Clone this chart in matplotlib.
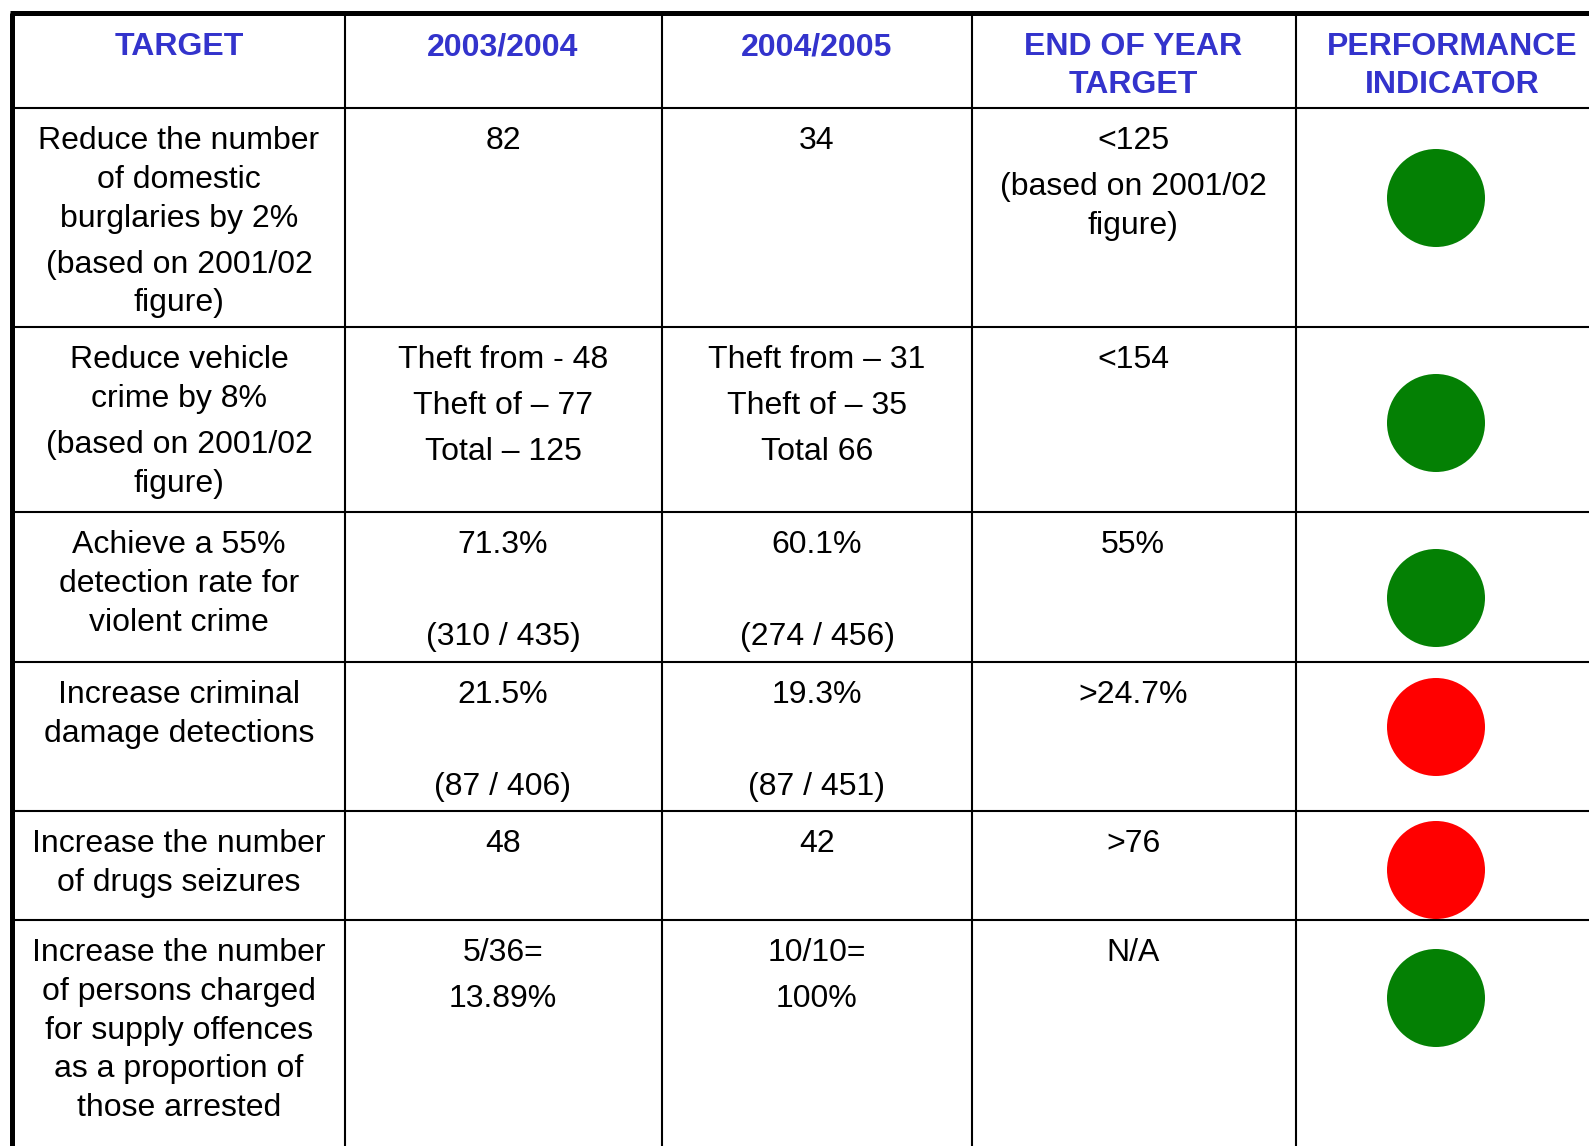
import matplotlib
matplotlib.use("Agg")
import matplotlib.pyplot as plt
from matplotlib.patches import Circle

# table content
headers = [["TARGET"], ["2003/2004"], ["2004/2005"], ["END OF YEAR\nTARGET"], ["PERFORMANCE\nINDICATOR"]]
targets = [
    ["Reduce the number\nof domestic\nburglaries by 2%", "(based on 2001/02\nfigure)"],
    ["Reduce vehicle\ncrime by 8%", "(based on 2001/02\nfigure)"],
    ["Achieve a 55%\ndetection rate for\nviolent crime"],
    ["Increase criminal\ndamage detections"],
    ["Increase the number\nof drugs seizures"],
    ["Increase the number\nof persons charged\nfor supply offences\nas a proportion of\nthose arrested"],
]
y2003 = [["82"], ["Theft from - 48", "Theft of \u2013 77", "Total \u2013 125"], ["71.3%", "", "(310 / 435)"],
         ["21.5%", "", "(87 / 406)"], ["48"], ["5/36=", "13.89%"]]
y2004 = [["34"], ["Theft from \u2013 31", "Theft of \u2013 35", "Total 66"], ["60.1%", "", "(274 / 456)"],
         ["19.3%", "", "(87 / 451)"], ["42"], ["10/10=", "100%"]]
year_end = [["<125", "(based on 2001/02\nfigure)"], ["<154"], ["55%"], [">24.7%"], [">76"], ["N/A"]]
indicator = ["green", "green", "green", "red", "red", "green"]

# layout (pixels)
W, H = 1589, 1146
col_x = [11.5, 345, 662, 972, 1296]
col_mid = [179, 503, 817, 1133, 1452]
row_y = [13, 108, 327, 512, 662, 811, 920]
dot_y = [198, 423, 598, 727, 870, 998]
dot_x, dot_r = 1436, 49
WRAP, PARA = 38.8, 46
colors = {"green": "#048004", "red": "#FF0000"}

plt.rcParams['font.family'] = ['Liberation Sans', 'DejaVu Sans']
fig = plt.figure(figsize=(W / 100, H / 100), dpi=100)
ax = fig.add_axes([0, 0, 1, 1])
ax.set_xlim(0, W)
ax.set_ylim(H, 0)
ax.axis('off')

# grid
for y in row_y[1:]:
    ax.plot([col_x[0], W], [y, y], color='black', lw=1.5, solid_capstyle='butt')
ax.plot([col_x[0] - 2, W], [row_y[0], row_y[0]], color='black', lw=3.6, solid_capstyle='butt')
ax.plot([col_x[0], col_x[0]], [row_y[0], H], color='black', lw=3.6, solid_capstyle='butt')
for x in col_x[1:]:
    ax.plot([x, x], [row_y[0], H], color='black', lw=1.5, solid_capstyle='butt')


def draw_cell(x, top, paras, first=41, **kw):
    y = top + first
    for pi, para in enumerate(paras):
        if pi > 0:
            y += PARA
        for li, line in enumerate(para.split("\n")):
            if li > 0:
                y += WRAP
            ax.text(x, y, line, ha='center', va='baseline', **kw)


for c, h in enumerate(headers):
    for li, line in enumerate(h[0].split("\n")):
        ax.text(col_mid[c], row_y[0] + 42 + li * 38, line, ha='center', va='baseline',
                fontsize=23, fontweight='bold', color='#3333CC')

for r in range(len(targets)):
    top = row_y[r + 1]
    for c, col in enumerate([targets, y2003, y2004, year_end]):
        draw_cell(col_mid[c], top, col[r], fontsize=23, color='black')
    ax.add_patch(Circle((dot_x, dot_y[r]), dot_r, color=colors[indicator[r]], lw=0))

fig.savefig("out.png", dpi=100)
